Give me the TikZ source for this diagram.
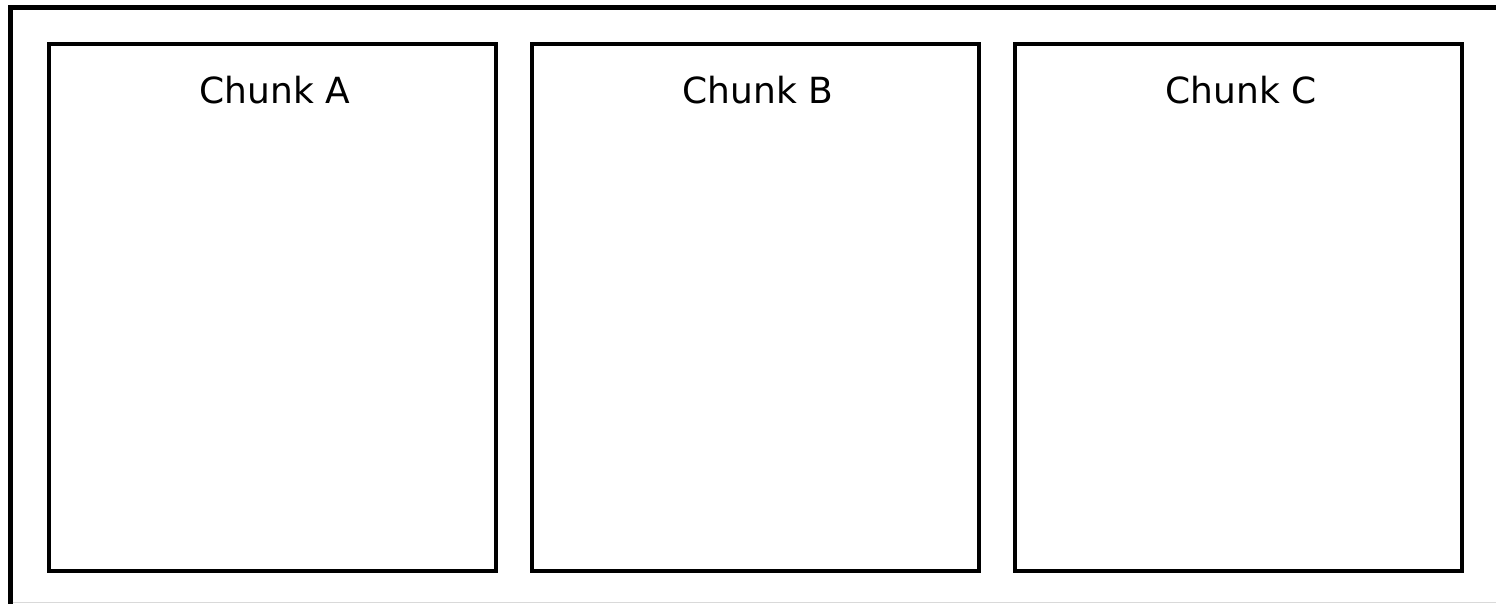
\documentclass[tikz,border=0pt]{standalone}
\usepackage{fontspec}
\setmainfont{DejaVu Sans}
\usetikzlibrary{positioning}

\begin{document}
\begin{tikzpicture}[x=1pt,y=-1pt,
    chunk/.style={draw,line width=4pt,minimum width=447pt,minimum height=527pt,inner sep=0pt},
    chunklabel/.style={anchor=base,font=\fontsize{36}{43}\selectfont}]
    \useasboundingbox (0,0) rectangle (1496,604);
    % outer frame (cut off at right and bottom)
    \draw[line width=5pt] (10,604) -- (10,7.5) -- (1496,7.5);
    \draw[gray!30,line width=1.5pt] (12.5,602.5) -- (1496,602.5);
    % the three chunks
    \node[chunk] (chunkA) at (272,307.5) {};
    \node[chunk,right=32pt of chunkA] (chunkB) {};
    \node[chunk,right=32pt of chunkB] (chunkC) {};
    \foreach \c in {A,B,C}
      \node[chunklabel] (label\c) at ([xshift=3pt,yshift=-62pt]chunk\c.north) {Chunk \c};
  \end{tikzpicture}
\end{document}
